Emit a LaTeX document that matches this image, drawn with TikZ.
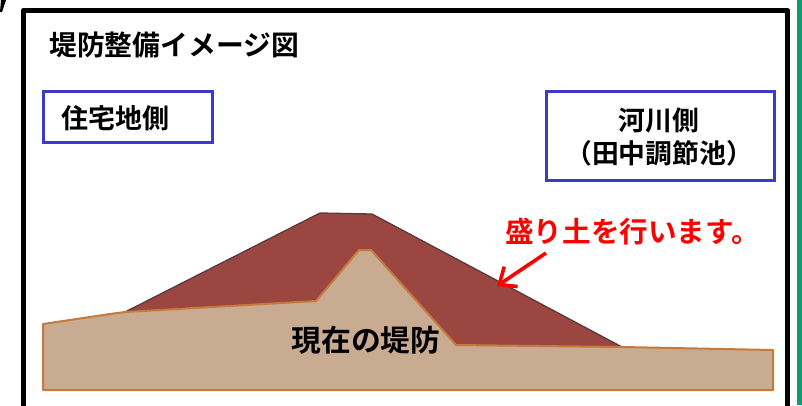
\documentclass[tikz,border=0pt]{standalone}
\usepackage{fontspec}
\setmainfont{Noto Sans CJK JP Bold}
\usetikzlibrary{arrows.meta}
\definecolor{bluebox}{HTML}{3A3ACC}
\definecolor{barG}{HTML}{0E9A72}
\definecolor{tanfill}{HTML}{C9AB92}
\definecolor{tanline}{HTML}{C47A3A}
\definecolor{fillred}{HTML}{9B4641}
\definecolor{fillline}{HTML}{5A3A3C}
\tikzset{
  x=1pt,y=-1pt,
  labelbox/.style={draw=bluebox,line width=3pt,fill=white},
  txt/.style={inner sep=0pt,text=black,align=center,anchor=center},
}
\begin{document}
\begin{tikzpicture}
\useasboundingbox (0,0) rectangle (802,405);
\fill[white] (0,0) rectangle (802,405);
% green bar and corner stub
\fill[barG] (797,0) rectangle (802,405);
\fill[black] (0,12) -- (2,12) -- (6,0) -- (1,0) -- cycle;
% black frame
\draw[black,line width=5.5pt,line join=round] (23.5,410) -- (23.5,10.5) -- (787.5,10.5) -- (787.5,410);
% fill soil
\fill[fillred] (125,312) -- (320,213) -- (372,214) -- (622,347) -- (456,345) -- (372,250) -- (316,301) -- cycle;
\draw[fillline,line width=1.3pt] (125,312) -- (320,213) -- (372,214) -- (622,347);
% existing embankment
\draw[tanline,line width=2pt,fill=tanfill,line join=round] (43,324) -- (110,314) -- (125,312) -- (316,301) -- (359,250) -- (371,250) -- (456,345) -- (622,347) -- (773,350) -- (773,390) -- (43,390) -- cycle;
% label boxes
\draw[labelbox] (43.5,91.5) rectangle (212,142);
\draw[labelbox] (546,91.5) rectangle (774,180);
% texts
\node[txt,anchor=west,font=\fontsize{27.8}{27.8}\selectfont] (title) at (49,45) {堤防整備イメージ図};
\node[txt,font=\fontsize{27}{27}\selectfont] (land) at (115,118) {住宅地側};
\node[txt,font=\fontsize{26.8}{33}\selectfont] (river) at (659,137) {河川側\\（田中調節池）};
\node[txt,font=\fontsize{29.8}{29.8}\selectfont] (levee) at (366,340) {現在の堤防};
\node[txt,text=red,anchor=west,font=\fontsize{28.6}{28.6}\selectfont] (note) at (505,232) {盛り土を行います。};
% arrow
\coordinate (from) at (546,253);
\coordinate (to) at (497,286);
\draw[red,line width=3.6pt,-{Straight Barb[length=14pt,width=24pt,line width=3.6pt]}] (from) -- (to);
\end{tikzpicture}
\end{document}
